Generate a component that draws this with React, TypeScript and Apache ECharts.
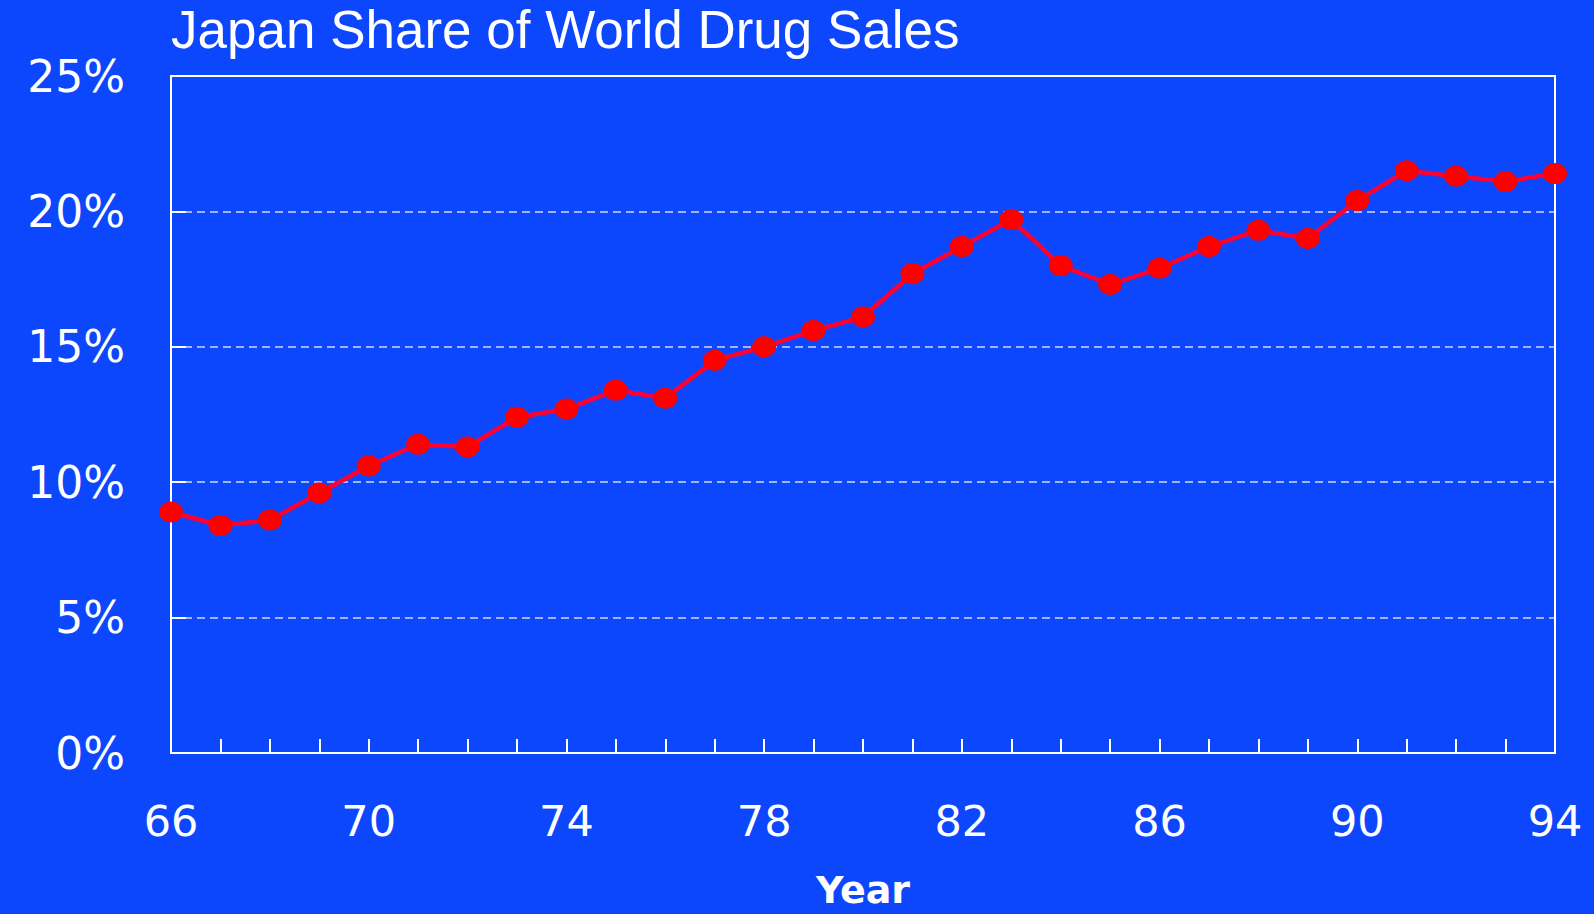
import React, { useEffect, useRef } from "react";
import * as echarts from "echarts";

const years = ["66","67","68","69","70","71","72","73","74","75","76","77","78","79","80","81","82","83","84","85","86","87","88","89","90","91","92","93","94"];
const share = [8.9,8.4,8.6,9.6,10.6,11.4,11.3,12.4,12.7,13.4,13.1,14.5,15.0,15.6,16.1,17.7,18.7,19.7,18.0,17.3,17.9,18.7,19.3,19.0,20.4,21.5,21.3,21.1,21.4];
const titleText = "Japan Share of World Drug Sales";
const xName = "Year";

export default function App() {
  const ref = useRef<HTMLDivElement>(null);
  useEffect(() => {
    document.body.style.margin = "0";
    const chart = echarts.init(ref.current!, null, { renderer: "svg" });
    chart.setOption({
      animation: false,
      backgroundColor: "#0d47fd",
      title: {
        text: titleText,
        left: 166,
        top: -2,
        textStyle: { color: "#fff", fontSize: 53, fontWeight: "normal", fontFamily: "Liberation Sans" },
      },
      grid: {
        left: 171, right: 39, top: 76, bottom: 156,
        show: true, borderColor: "#fff", borderWidth: 2, backgroundColor: "transparent",
      },
      xAxis: {
        type: "category",
        data: years,
        boundaryGap: false,
        name: xName,
        nameLocation: "middle",
        nameGap: 118,
        nameTextStyle: { color: "#fff", fontSize: 38, fontWeight: "bold", fontFamily: "DejaVu Sans" },
        axisLine: { show: true, lineStyle: { color: "#fff", width: 2 } },
        axisTick: { show: true, inside: true, length: 14, interval: 0, lineStyle: { color: "#fff", width: 2 } },
        axisLabel: { interval: 3, color: "#fff", fontSize: 43, fontFamily: "DejaVu Sans", margin: 46 },
        splitLine: { show: false },
      },
      yAxis: {
        type: "value",
        min: 0, max: 25, interval: 5,
        axisLine: { show: true, lineStyle: { color: "#fff", width: 2 } },
        axisTick: { show: true, inside: true, length: 15, lineStyle: { color: "#fff", width: 2 } },
        axisLabel: { formatter: "{value}%", color: "#fff", fontSize: 44, fontFamily: "DejaVu Sans", margin: 46 },
        splitLine: { show: true, lineStyle: { color: "rgba(255,255,255,0.8)", width: 1.5, type: [8, 5] } },
      },
      series: [{
        type: "line",
        data: share,
        clip: false,
        symbol: "circle",
        symbolSize: [24, 21],
        lineStyle: { color: "#ff0033", width: 4.5 },
        itemStyle: { color: "#ff0000" },
      }],
    });
    return () => chart.dispose();
  }, []);
  return <div ref={ref} style={{ position: "fixed", left: 0, top: 0, width: 1594, height: 914 }} />;
}
